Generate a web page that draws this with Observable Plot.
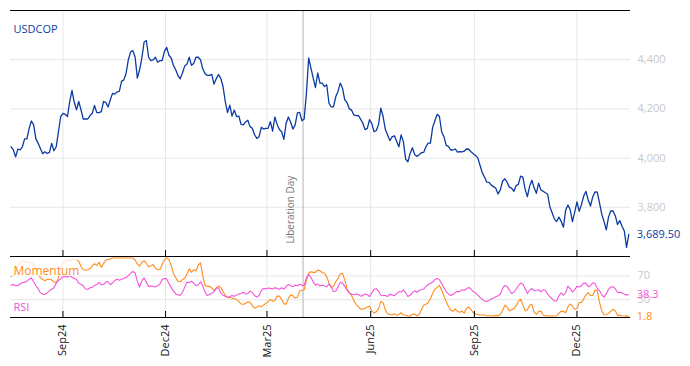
<!DOCTYPE html>
<html><head><meta charset="utf-8">
<script src="https://cdn.jsdelivr.net/npm/d3@7"></script>
<script src="https://cdn.jsdelivr.net/npm/@observablehq/plot@0.6"></script>
<style>
html,body{margin:0;padding:0;background:#fff;}
#chart{position:relative;width:690px;height:366px;overflow:hidden;font-family:"Open Sans",sans-serif;}
#chart svg{position:absolute;left:0;}
</style></head><body><div id="chart"></div>
<script>
const startDate = "2024-07-17";
const stepDays = 2;
const seriesName = "USDCOP";
const price = [
4046,4033,4005,4037,4033,4046,4078,4078,4121,4151,
4135,4078,4060,4039,4018,4026,4019,4023,4060,4030,
4046,4107,4169,4182,4178,4169,4230,4275,4227,4196,
4230,4196,4159,4159,4159,4173,4182,4214,4185,4185,
4189,4230,4227,4208,4237,4263,4260,4269,4271,4312,
4318,4344,4400,4431,4437,4411,4325,4359,4407,4472,
4478,4410,4396,4399,4410,4390,4396,4396,4434,4450,
4418,4407,4377,4359,4336,4322,4346,4374,4382,4410,
4377,4385,4410,4410,4400,4363,4344,4336,4336,4340,
4301,4323,4340,4324,4291,4230,4185,4215,4171,4195,
4169,4171,4137,4135,4147,4154,4128,4121,4095,4080,
4087,4125,4118,4121,4121,4148,4110,4167,4137,4116,
4107,4076,4142,4167,4146,4118,4135,4184,4186,4152,
4159,4264,4407,4366,4325,4287,4346,4305,4305,4291,
4298,4223,4208,4208,4249,4271,4305,4284,4237,4226,
4201,4195,4176,4173,4174,4159,4142,4116,4121,4156,
4140,4107,4112,4137,4203,4169,4117,4094,4071,4086,
4091,4069,4046,4094,4067,3996,3985,4019,4042,4015,
4007,4014,4022,4023,4046,4061,4061,4126,4152,4178,
4169,4106,4087,4052,4048,4033,4033,4037,4024,4026,
4025,4028,4037,4036,4026,4018,4011,4001,3971,3940,
3923,3902,3901,3890,3884,3877,3854,3871,3906,3916,
3902,3882,3878,3865,3888,3893,3927,3923,3874,3843,
3885,3910,3879,3857,3898,3871,3865,3859,3853,3801,
3778,3752,3742,3760,3743,3719,3789,3809,3791,3742,
3780,3822,3784,3811,3846,3865,3830,3805,3842,3863,
3862,3818,3772,3743,3708,3760,3785,3785,3766,3730,
3746,3723,3704,3637,3689.5];
const momentum = [
68.8,72.6,75.3,86.3,92.9,94.5,94.5,92.9,91.8,92.9,
89.0,80.8,72.6,67.1,64.4,61.6,64.4,64.4,63.3,60.0,
57.8,67.1,83.6,91.8,94.5,97.3,94.5,98.4,97.3,97.3,
94.5,86.3,80.3,79.7,80.3,81.9,86.3,90.7,87.4,92.9,
84.1,90.7,96.2,97.8,98.4,100,100,100,100,100,
100,100,100,100,100,96.7,90.1,86.3,92.9,95.6,
91.2,85.2,86.8,89.0,83.0,80.3,80.8,89.0,97.3,100,
97.3,87.9,74.2,67.1,61.1,60.0,63.8,66.0,72.6,81.9,
75.9,80.3,78.6,87.9,91.8,70.9,54.0,52.3,52.3,50.1,
45.2,49.6,52.9,50.7,43.6,37.5,33.2,34.2,32.6,31.5,
30.4,27.1,22.7,22.2,23.3,26.6,25.5,20.0,15.6,17.3,
20.0,17.8,21.1,23.8,26.6,30.4,27.1,28.8,35.9,35.9,
30.4,23.3,22.2,32.1,38.1,36.4,32.6,34.2,44.7,45.8,
46.3,62.7,74.8,77.0,75.9,75.9,79.7,78.6,75.3,74.8,
68.2,58.4,50.7,52.3,60.0,66.0,73.2,74.2,63.3,48.5,
41.9,37.0,28.8,22.2,18.4,14.0,14.5,15.1,17.8,18.9,
11.2,7.4,9.6,14.5,27.1,24.9,12.9,6.3,5.2,4.1,
6.3,3.6,5.2,7.9,4.1,4.1,3.0,2.5,5.2,5.8,
3.0,5.2,12.9,20.5,22.2,24.9,31.5,40.8,47.4,50.7,
54.0,45.8,35.9,27.1,18.4,12.3,10.7,14.5,10.1,9.0,
10.7,7.4,15.6,17.8,13.4,7.9,5.8,5.2,4.1,4.1,
4.1,3.0,3.0,3.0,2.5,3.6,3.0,5.2,11.8,20.5,
17.8,11.2,12.9,15.1,19.5,27.1,31.0,21.6,11.2,12.9,
20.5,22.2,9.0,5.2,10.1,10.7,4.1,3.0,3.0,2.5,
2.5,2.5,3.0,6.8,10.7,10.1,7.9,17.8,22.7,19.5,
13.4,15.1,24.9,25.5,31.5,38.1,41.9,37.0,37.0,46.3,
45.2,25.5,11.2,4.1,4.7,6.8,10.7,14.0,11.2,3.6,
3.6,3.0,2.5,3.0,1.8];
const rsi = [
54.5,55.6,53.4,53.4,56.7,58.4,59.5,61.1,64.4,66.6,
60.0,53.4,47.9,41.9,39.2,38.6,41.4,44.7,47.4,50.1,
57.8,62.2,64.9,68.8,68.8,67.7,70.4,67.7,65.5,63.8,
57.8,55.6,53.4,47.9,47.4,50.1,50.7,54.0,55.6,58.9,
55.1,55.6,59.5,60.5,55.1,58.4,62.2,64.4,62.7,64.4,
65.5,67.1,70.4,74.2,77.5,74.8,61.1,51.2,61.6,66.6,
59.5,52.3,52.9,52.3,51.2,53.4,56.2,63.8,65.5,64.9,
57.3,50.7,44.7,39.7,38.1,37.0,42.5,50.7,59.5,58.9,
61.1,57.8,53.4,55.1,60.0,53.4,43.0,37.0,38.6,40.8,
43.6,49.0,50.1,41.4,37.5,35.9,34.2,35.3,37.0,35.9,
37.5,39.7,40.3,42.5,39.7,40.3,44.7,41.9,37.0,34.2,
37.0,45.2,49.0,47.9,49.6,49.0,47.9,50.1,49.0,47.4,
50.1,47.9,52.3,55.6,53.4,51.8,54.5,53.4,56.2,54.0,
54.5,67.1,72.1,67.7,59.5,54.5,56.2,53.4,54.5,52.9,
51.8,56.2,51.2,43.6,44.1,51.2,59.5,57.8,52.3,45.8,
40.8,39.7,38.1,39.7,38.6,35.9,37.0,39.7,38.1,35.3,
41.4,47.4,48.5,44.1,37.5,37.0,37.0,35.3,39.2,38.1,
36.4,40.3,43.6,43.0,46.3,41.9,35.3,37.5,41.9,44.7,
42.5,45.8,46.8,47.9,51.8,55.1,57.8,59.5,63.8,65.5,
63.3,57.3,50.1,43.6,39.7,37.0,39.2,41.9,43.6,43.6,
46.8,45.8,47.9,50.7,47.9,43.6,41.4,37.5,33.7,30.4,
27.7,27.1,28.8,31.0,32.6,34.8,36.4,39.2,49.0,54.0,
52.3,46.3,40.3,42.5,47.9,53.4,57.8,56.2,48.5,40.3,
45.8,49.0,45.2,45.8,46.8,43.0,46.8,45.8,39.2,34.8,
31.5,27.7,27.7,37.0,41.4,37.5,41.9,52.9,49.0,43.0,
46.8,52.3,51.2,53.4,57.8,57.8,51.8,53.4,58.4,57.3,
49.0,45.2,38.1,34.2,39.7,47.4,51.2,51.8,48.5,41.9,
42.5,41.4,39.2,38.1,38.3];
const tickDates = ["2024-09-01","2024-12-01","2025-03-01","2025-06-01","2025-09-01","2025-12-01"];
const priceTicks = [3800, 4000, 4200, 4400];
const oscTicks = [30, 70];
const eventDate = "2025-04-02";
const eventLabel = "Liberation Day";
const momentumLabel = "Momentum";
const rsiLabel = "RSI";

const BLUE = "#0b3aa3", ORANGE = "#ff8c1a", PINK = "#f552dc", GRID = "#e6e6e6", AXIS = "#c8c8c8";
const start = new Date(startDate + "T00:00:00Z");
const dateAt = i => d3.utcDay.offset(start, i * stepDays);
const priceData = price.map((v, i) => ({date: dateAt(i), value: v}));
const momData = momentum.map((v, i) => ({date: dateAt(i), value: v}));
const rsiData = rsi.map((v, i) => ({date: dateAt(i), value: v}));
const ticks = tickDates.map(s => new Date(s + "T00:00:00Z"));
const eventD = new Date(eventDate + "T00:00:00Z");
const xDomain = [new Date(Date.UTC(2024, 6, 16, 11)), new Date(Date.UTC(2026, 0, 17, 12))];
const yTop = [3600, 4600];
const yBot = [0, 102.6];
const font = {fontFamily: "'Open Sans', sans-serif", fontSize: "11px", background: "transparent", overflow: "visible"};

const topPlot = Plot.plot({
  width: 690, height: 256, marginTop: 10, marginBottom: 0, marginLeft: 10, marginRight: 60,
  style: font,
  x: {type: "utc", domain: xDomain, axis: null},
  y: {domain: yTop},
  marks: [
    Plot.gridX(ticks, {stroke: GRID, strokeOpacity: 1}),
    Plot.gridY(priceTicks, {stroke: GRID, strokeOpacity: 1}),
    Plot.axisY(priceTicks, {anchor: "right", tickSize: 0, tickPadding: 7, tickFormat: d3.format(","), color: AXIS, label: null}),
    Plot.ruleX([eventD], {stroke: "#b3b3b3"}),
    Plot.ruleY([yTop[1]], {stroke: "#000"}),
    Plot.lineY(priceData, {x: "date", y: "value", stroke: BLUE, strokeWidth: 1.3}),
    Plot.tickX(ticks, {stroke: "#000", insetTop: 240}),
    Plot.text([seriesName], {frameAnchor: "top-left", dx: 3, dy: 15, fill: BLUE, fontSize: 11, textAnchor: "start"}),
    Plot.text([priceData[priceData.length - 1]], {x: "date", y: "value", text: d => d3.format(",.2f")(d.value), dx: 8, textAnchor: "start", fill: BLUE, fontSize: 11}),
    Plot.text([eventD], {x: d => d, frameAnchor: "bottom", dy: -13, dx: -12.5, rotate: -90, textAnchor: "start", lineAnchor: "middle", text: () => eventLabel, fill: "#777", fontSize: 10})
  ]
});
topPlot.style.top = "0px";

const bgBox = () => d3.create("svg:rect").attr("x", 11).attr("y", 1).attr("width", 66).attr("height", 19).attr("fill", "#fff").attr("fill-opacity", 0.78).node();

const botPlot = Plot.plot({
  width: 690, height: 110, marginTop: 0, marginBottom: 49, marginLeft: 10, marginRight: 60,
  style: font,
  x: {type: "utc", domain: xDomain},
  y: {domain: yBot},
  marks: [
    Plot.gridX(ticks, {stroke: GRID, strokeOpacity: 1}),
    Plot.gridY(oscTicks, {stroke: GRID, strokeOpacity: 1}),
    Plot.axisY(oscTicks, {anchor: "right", tickSize: 0, tickPadding: 7, color: AXIS, label: null}),
    Plot.ruleX([eventD], {stroke: "#b3b3b3"}),
    Plot.lineY(momData, {x: "date", y: "value", stroke: ORANGE, strokeWidth: 1.1}),
    Plot.lineY(rsiData, {x: "date", y: "value", stroke: PINK, strokeWidth: 1.1}),
    bgBox,
    Plot.text([momentumLabel], {frameAnchor: "top-left", dx: 3, dy: 10, fill: ORANGE, fontSize: 12, textAnchor: "start"}),
    Plot.text([rsiLabel], {frameAnchor: "top-left", dx: 3, dy: 47, fill: PINK, fontSize: 11, textAnchor: "start"}),
    Plot.text([rsiData[rsiData.length - 1]], {x: "date", y: "value", text: d => d3.format(".1f")(d.value), dx: 8, textAnchor: "start", fill: PINK, fontSize: 11}),
    Plot.text([momData[momData.length - 1]], {x: "date", y: "value", text: d => d3.format(".1f")(d.value), dx: 8, textAnchor: "start", fill: ORANGE, fontSize: 11}),
    Plot.ruleY([yBot[1]], {stroke: "#000"}),
    Plot.ruleY([yBot[0]], {stroke: "#000"}),
    Plot.tickX(ticks, {stroke: "#000", insetTop: 55}),
    Plot.axisX(ticks, {anchor: "bottom", tickSize: 0, tickPadding: 7, tickRotate: -90, tickFormat: d3.utcFormat("%b%y"), color: "#111", label: null})
  ]
});
botPlot.style.top = "256px";

const chart = document.getElementById("chart");
chart.appendChild(topPlot);
chart.appendChild(botPlot);
</script>
</body></html>
